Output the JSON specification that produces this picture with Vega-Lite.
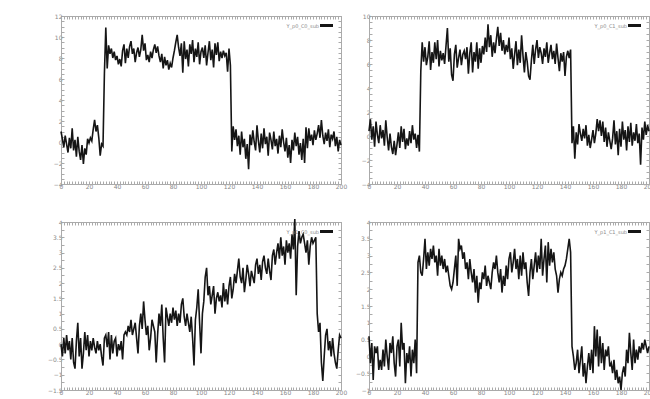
{
"$schema": "https://vega.github.io/schema/vega-lite/v6.json",
"background": "white",
"padding": {"left": 46, "top": 12, "right": 0, "bottom": 0},
"autosize": {"type": "pad"},
"bounds": "flush",
"columns": 2,
"spacing": {"row": 38, "column": 28},
"datasets": {
"s1": [
{"x":0,"y":1.0},{"x":1,"y":0.3},{"x":2,"y":-0.5},{"x":3,"y":0.6},{"x":4,"y":-0.2},{"x":5,"y":-1.0},{"x":6,"y":0.4},{"x":7,"y":-0.6},{"x":8,"y":1.3},{"x":9,"y":-0.8},
{"x":10,"y":0.2},{"x":11,"y":-1.4},{"x":12,"y":0.5},{"x":13,"y":-0.9},{"x":14,"y":-1.7},{"x":15,"y":-0.3},{"x":16,"y":-2.1},{"x":17,"y":-0.6},{"x":18,"y":-1.2},{"x":19,"y":0.3},
{"x":20,"y":-0.1},{"x":21,"y":0.4},{"x":22,"y":0.1},{"x":23,"y":1.2},{"x":24,"y":2.1},{"x":25,"y":1.0},{"x":26,"y":1.6},{"x":27,"y":0.4},{"x":28,"y":-1.3},{"x":29,"y":-0.2},
{"x":30,"y":-0.4},{"x":31,"y":6.5},{"x":32,"y":10.9},{"x":33,"y":7.0},{"x":34,"y":9.2},{"x":35,"y":8.4},{"x":36,"y":8.9},{"x":37,"y":8.0},{"x":38,"y":8.6},{"x":39,"y":7.8},
{"x":40,"y":8.2},{"x":41,"y":7.4},{"x":42,"y":7.9},{"x":43,"y":7.2},{"x":44,"y":8.7},{"x":45,"y":9.3},{"x":46,"y":7.5},{"x":47,"y":8.9},{"x":48,"y":8.0},{"x":49,"y":9.1},
{"x":50,"y":9.6},{"x":51,"y":8.4},{"x":52,"y":8.9},{"x":53,"y":7.6},{"x":54,"y":8.5},{"x":55,"y":9.0},{"x":56,"y":8.1},{"x":57,"y":8.8},{"x":58,"y":10.2},{"x":59,"y":8.7},
{"x":60,"y":9.4},{"x":61,"y":7.8},{"x":62,"y":8.3},{"x":63,"y":7.6},{"x":64,"y":8.6},{"x":65,"y":8.0},{"x":66,"y":8.8},{"x":67,"y":9.3},{"x":68,"y":8.5},{"x":69,"y":9.1},
{"x":70,"y":8.2},{"x":71,"y":7.6},{"x":72,"y":8.4},{"x":73,"y":7.0},{"x":74,"y":8.1},{"x":75,"y":7.3},{"x":76,"y":7.8},{"x":77,"y":6.9},{"x":78,"y":7.5},{"x":79,"y":7.1},
{"x":80,"y":8.0},{"x":81,"y":8.7},{"x":82,"y":9.5},{"x":83,"y":10.2},{"x":84,"y":9.0},{"x":85,"y":8.2},{"x":86,"y":9.4},{"x":87,"y":6.6},{"x":88,"y":9.6},{"x":89,"y":7.9},
{"x":90,"y":8.8},{"x":91,"y":7.2},{"x":92,"y":9.3},{"x":93,"y":8.4},{"x":94,"y":9.7},{"x":95,"y":7.6},{"x":96,"y":8.9},{"x":97,"y":8.1},{"x":98,"y":9.5},{"x":99,"y":7.4},
{"x":100,"y":8.6},{"x":101,"y":9.0},{"x":102,"y":8.0},{"x":103,"y":9.2},{"x":104,"y":7.3},{"x":105,"y":8.5},{"x":106,"y":9.6},{"x":107,"y":7.8},{"x":108,"y":8.8},{"x":109,"y":7.1},
{"x":110,"y":9.4},{"x":111,"y":8.3},{"x":112,"y":9.5},{"x":113,"y":7.7},{"x":114,"y":8.6},{"x":115,"y":8.0},{"x":116,"y":8.7},{"x":117,"y":8.2},{"x":118,"y":8.5},{"x":119,"y":6.7},
{"x":120,"y":8.9},{"x":121,"y":7.3},{"x":122,"y":-0.9},{"x":123,"y":1.5},{"x":124,"y":0.2},{"x":125,"y":1.2},{"x":126,"y":-0.4},{"x":127,"y":0.6},{"x":128,"y":-1.2},{"x":129,"y":1.0},
{"x":130,"y":-0.5},{"x":131,"y":0.3},{"x":132,"y":-1.6},{"x":133,"y":-0.2},{"x":134,"y":-2.6},{"x":135,"y":0.7},{"x":136,"y":-0.3},{"x":137,"y":1.1},{"x":138,"y":0.0},{"x":139,"y":-0.8},
{"x":140,"y":1.6},{"x":141,"y":0.1},{"x":142,"y":-1.0},{"x":143,"y":0.8},{"x":144,"y":-0.6},{"x":145,"y":1.3},{"x":146,"y":-0.2},{"x":147,"y":0.5},{"x":148,"y":-1.3},{"x":149,"y":0.9},
{"x":150,"y":0.2},{"x":151,"y":-0.7},{"x":152,"y":1.0},{"x":153,"y":-0.4},{"x":154,"y":0.3},{"x":155,"y":-1.1},{"x":156,"y":0.6},{"x":157,"y":-0.5},{"x":158,"y":1.2},{"x":159,"y":0.0},
{"x":160,"y":-0.9},{"x":161,"y":0.4},{"x":162,"y":-1.5},{"x":163,"y":-0.3},{"x":164,"y":-2.0},{"x":165,"y":0.2},{"x":166,"y":-0.8},{"x":167,"y":0.9},{"x":168,"y":-0.4},{"x":169,"y":0.5},
{"x":170,"y":-1.2},{"x":171,"y":-0.1},{"x":172,"y":-1.7},{"x":173,"y":0.3},{"x":174,"y":-2.0},{"x":175,"y":1.4},{"x":176,"y":-0.6},{"x":177,"y":1.3},{"x":178,"y":0.1},{"x":179,"y":0.7},
{"x":180,"y":-0.3},{"x":181,"y":1.1},{"x":182,"y":0.2},{"x":183,"y":0.8},{"x":184,"y":1.6},{"x":185,"y":0.4},{"x":186,"y":2.1},{"x":187,"y":0.6},{"x":188,"y":-0.2},{"x":189,"y":0.9},
{"x":190,"y":0.1},{"x":191,"y":1.2},{"x":192,"y":-0.5},{"x":193,"y":0.7},{"x":194,"y":0.3},{"x":195,"y":1.0},{"x":196,"y":-0.4},{"x":197,"y":0.5},{"x":198,"y":-0.9},{"x":199,"y":0.2},
{"x":200,"y":-0.3}
],
"s2": [
{"x":0,"y":0.4},{"x":1,"y":1.4},{"x":2,"y":-0.3},{"x":3,"y":0.8},{"x":4,"y":-0.9},{"x":5,"y":1.2},{"x":6,"y":0.1},{"x":7,"y":-0.6},{"x":8,"y":0.9},{"x":9,"y":-0.2},
{"x":10,"y":0.5},{"x":11,"y":-0.8},{"x":12,"y":1.3},{"x":13,"y":-0.1},{"x":14,"y":-1.2},{"x":15,"y":0.2},{"x":16,"y":-0.9},{"x":17,"y":-1.5},{"x":18,"y":-0.4},{"x":19,"y":-1.6},
{"x":20,"y":-0.7},{"x":21,"y":0.3},{"x":22,"y":-1.0},{"x":23,"y":0.8},{"x":24,"y":-0.5},{"x":25,"y":0.6},{"x":26,"y":-1.1},{"x":27,"y":-0.2},{"x":28,"y":-0.8},{"x":29,"y":0.4},
{"x":30,"y":-0.6},{"x":31,"y":0.9},{"x":32,"y":-0.3},{"x":33,"y":0.2},{"x":34,"y":-1.0},{"x":35,"y":0.1},{"x":36,"y":-1.3},{"x":37,"y":5.4},{"x":38,"y":7.8},{"x":39,"y":6.2},
{"x":40,"y":7.4},{"x":41,"y":5.9},{"x":42,"y":6.6},{"x":43,"y":7.9},{"x":44,"y":5.5},{"x":45,"y":7.0},{"x":46,"y":6.1},{"x":47,"y":7.8},{"x":48,"y":6.4},{"x":49,"y":8.0},
{"x":50,"y":5.8},{"x":51,"y":7.1},{"x":52,"y":6.3},{"x":53,"y":6.9},{"x":54,"y":6.0},{"x":55,"y":7.5},{"x":56,"y":9.0},{"x":57,"y":6.2},{"x":58,"y":7.3},{"x":59,"y":5.1},
{"x":60,"y":4.6},{"x":61,"y":6.8},{"x":62,"y":7.6},{"x":63,"y":5.7},{"x":64,"y":6.5},{"x":65,"y":7.2},{"x":66,"y":5.9},{"x":67,"y":6.8},{"x":68,"y":7.1},{"x":69,"y":6.4},
{"x":70,"y":7.4},{"x":71,"y":5.2},{"x":72,"y":6.9},{"x":73,"y":7.8},{"x":74,"y":5.3},{"x":75,"y":7.0},{"x":76,"y":6.2},{"x":77,"y":7.8},{"x":78,"y":5.6},{"x":79,"y":7.3},
{"x":80,"y":6.1},{"x":81,"y":7.5},{"x":82,"y":6.8},{"x":83,"y":8.2},{"x":84,"y":7.0},{"x":85,"y":9.3},{"x":86,"y":7.4},{"x":87,"y":8.4},{"x":88,"y":6.6},{"x":89,"y":7.8},
{"x":90,"y":6.9},{"x":91,"y":8.1},{"x":92,"y":9.1},{"x":93,"y":7.5},{"x":94,"y":8.6},{"x":95,"y":7.1},{"x":96,"y":8.0},{"x":97,"y":6.8},{"x":98,"y":7.6},{"x":99,"y":7.0},
{"x":100,"y":8.2},{"x":101,"y":6.4},{"x":102,"y":7.3},{"x":103,"y":5.6},{"x":104,"y":6.8},{"x":105,"y":7.9},{"x":106,"y":5.9},{"x":107,"y":7.2},{"x":108,"y":6.1},{"x":109,"y":8.4},
{"x":110,"y":6.7},{"x":111,"y":5.3},{"x":112,"y":7.0},{"x":113,"y":6.2},{"x":114,"y":5.0},{"x":115,"y":4.7},{"x":116,"y":6.3},{"x":117,"y":7.6},{"x":118,"y":6.0},{"x":119,"y":7.2},
{"x":120,"y":8.0},{"x":121,"y":6.5},{"x":122,"y":7.4},{"x":123,"y":6.9},{"x":124,"y":6.0},{"x":125,"y":7.3},{"x":126,"y":6.6},{"x":127,"y":7.8},{"x":128,"y":6.1},{"x":129,"y":6.9},
{"x":130,"y":7.6},{"x":131,"y":6.4},{"x":132,"y":7.1},{"x":133,"y":6.0},{"x":134,"y":7.7},{"x":135,"y":6.5},{"x":136,"y":5.4},{"x":137,"y":6.9},{"x":138,"y":6.2},{"x":139,"y":7.0},
{"x":140,"y":5.0},{"x":141,"y":6.6},{"x":142,"y":7.1},{"x":143,"y":6.5},{"x":144,"y":7.2},{"x":145,"y":-0.6},{"x":146,"y":0.8},{"x":147,"y":-1.9},{"x":148,"y":0.3},{"x":149,"y":-0.7},
{"x":150,"y":1.0},{"x":151,"y":0.2},{"x":152,"y":-0.4},{"x":153,"y":0.6},{"x":154,"y":-0.2},{"x":155,"y":0.9},{"x":156,"y":-0.8},{"x":157,"y":0.1},{"x":158,"y":-1.0},{"x":159,"y":-0.3},
{"x":160,"y":0.5},{"x":161,"y":-0.6},{"x":162,"y":0.2},{"x":163,"y":1.4},{"x":164,"y":0.4},{"x":165,"y":1.3},{"x":166,"y":0.0},{"x":167,"y":1.2},{"x":168,"y":-0.5},{"x":169,"y":0.7},
{"x":170,"y":-0.9},{"x":171,"y":0.3},{"x":172,"y":-0.4},{"x":173,"y":-1.1},{"x":174,"y":-0.2},{"x":175,"y":1.3},{"x":176,"y":-0.7},{"x":177,"y":0.4},{"x":178,"y":-1.6},{"x":179,"y":0.6},
{"x":180,"y":-0.9},{"x":181,"y":1.2},{"x":182,"y":-0.3},{"x":183,"y":0.5},{"x":184,"y":-1.2},{"x":185,"y":0.8},{"x":186,"y":-0.5},{"x":187,"y":1.1},{"x":188,"y":-0.8},{"x":189,"y":0.3},
{"x":190,"y":-0.4},{"x":191,"y":1.0},{"x":192,"y":-0.6},{"x":193,"y":0.2},{"x":194,"y":-2.4},{"x":195,"y":0.7},{"x":196,"y":-0.3},{"x":197,"y":1.2},{"x":198,"y":0.1},{"x":199,"y":0.9},
{"x":200,"y":0.4}
],
"s3": [
{"x":0,"y":0.0},{"x":1,"y":-0.4},{"x":2,"y":0.2},{"x":3,"y":-0.3},{"x":4,"y":0.3},{"x":5,"y":-0.2},{"x":6,"y":0.1},{"x":7,"y":-0.5},{"x":8,"y":0.2},{"x":9,"y":-0.6},
{"x":10,"y":-0.8},{"x":11,"y":0.1},{"x":12,"y":0.7},{"x":13,"y":-0.4},{"x":14,"y":0.2},{"x":15,"y":-0.8},{"x":16,"y":-0.3},{"x":17,"y":0.4},{"x":18,"y":-0.2},{"x":19,"y":0.3},
{"x":20,"y":-0.4},{"x":21,"y":0.1},{"x":22,"y":-0.2},{"x":23,"y":0.2},{"x":24,"y":-0.1},{"x":25,"y":-0.3},{"x":26,"y":0.1},{"x":27,"y":-0.2},{"x":28,"y":0.0},{"x":29,"y":-0.4},
{"x":30,"y":-0.7},{"x":31,"y":0.2},{"x":32,"y":0.3},{"x":33,"y":-0.1},{"x":34,"y":0.4},{"x":35,"y":-0.5},{"x":36,"y":0.3},{"x":37,"y":-0.3},{"x":38,"y":0.1},{"x":39,"y":0.2},
{"x":40,"y":-0.4},{"x":41,"y":0.0},{"x":42,"y":-0.2},{"x":43,"y":0.1},{"x":44,"y":-0.5},{"x":45,"y":0.3},{"x":46,"y":0.4},{"x":47,"y":0.3},{"x":48,"y":0.6},{"x":49,"y":0.4},
{"x":50,"y":0.8},{"x":51,"y":0.3},{"x":52,"y":0.5},{"x":53,"y":0.7},{"x":54,"y":0.2},{"x":55,"y":-0.3},{"x":56,"y":0.6},{"x":57,"y":1.0},{"x":58,"y":0.5},{"x":59,"y":1.4},
{"x":60,"y":0.8},{"x":61,"y":0.3},{"x":62,"y":0.6},{"x":63,"y":-0.2},{"x":64,"y":0.2},{"x":65,"y":0.8},{"x":66,"y":0.6},{"x":67,"y":0.4},{"x":68,"y":-0.6},{"x":69,"y":0.3},
{"x":70,"y":1.0},{"x":71,"y":0.6},{"x":72,"y":1.3},{"x":73,"y":0.2},{"x":74,"y":-0.6},{"x":75,"y":1.2},{"x":76,"y":0.9},{"x":77,"y":0.6},{"x":78,"y":1.0},{"x":79,"y":0.7},
{"x":80,"y":1.2},{"x":81,"y":0.8},{"x":82,"y":1.1},{"x":83,"y":0.6},{"x":84,"y":1.0},{"x":85,"y":0.7},{"x":86,"y":1.3},{"x":87,"y":1.5},{"x":88,"y":0.9},{"x":89,"y":0.6},
{"x":90,"y":1.0},{"x":91,"y":0.7},{"x":92,"y":0.4},{"x":93,"y":0.9},{"x":94,"y":0.2},{"x":95,"y":-0.7},{"x":96,"y":0.8},{"x":97,"y":1.2},{"x":98,"y":1.8},{"x":99,"y":0.7},
{"x":100,"y":-0.3},{"x":101,"y":1.0},{"x":102,"y":1.4},{"x":103,"y":2.2},{"x":104,"y":2.5},{"x":105,"y":1.6},{"x":106,"y":1.9},{"x":107,"y":1.3},{"x":108,"y":1.6},{"x":109,"y":1.9},
{"x":110,"y":1.0},{"x":111,"y":1.5},{"x":112,"y":1.7},{"x":113,"y":1.4},{"x":114,"y":1.6},{"x":115,"y":1.2},{"x":116,"y":2.0},{"x":117,"y":1.4},{"x":118,"y":1.8},{"x":119,"y":1.3},
{"x":120,"y":1.9},{"x":121,"y":2.2},{"x":122,"y":1.5},{"x":123,"y":1.8},{"x":124,"y":2.3},{"x":125,"y":2.0},{"x":126,"y":2.4},{"x":127,"y":2.8},{"x":128,"y":2.2},{"x":129,"y":2.0},
{"x":130,"y":2.5},{"x":131,"y":1.7},{"x":132,"y":2.1},{"x":133,"y":2.6},{"x":134,"y":2.3},{"x":135,"y":1.9},{"x":136,"y":2.4},{"x":137,"y":2.2},{"x":138,"y":2.0},{"x":139,"y":2.6},
{"x":140,"y":2.8},{"x":141,"y":2.3},{"x":142,"y":2.6},{"x":143,"y":2.1},{"x":144,"y":2.7},{"x":145,"y":2.9},{"x":146,"y":2.5},{"x":147,"y":2.3},{"x":148,"y":2.8},{"x":149,"y":2.4},
{"x":150,"y":2.1},{"x":151,"y":2.9},{"x":152,"y":3.1},{"x":153,"y":2.6},{"x":154,"y":3.0},{"x":155,"y":3.3},{"x":156,"y":2.8},{"x":157,"y":3.5},{"x":158,"y":2.9},{"x":159,"y":3.2},
{"x":160,"y":2.6},{"x":161,"y":3.4},{"x":162,"y":3.0},{"x":163,"y":3.3},{"x":164,"y":2.8},{"x":165,"y":3.6},{"x":166,"y":3.1},{"x":167,"y":4.1},{"x":168,"y":1.6},{"x":169,"y":3.2},
{"x":170,"y":3.7},{"x":171,"y":3.3},{"x":172,"y":3.5},{"x":173,"y":3.6},{"x":174,"y":3.3},{"x":175,"y":3.0},{"x":176,"y":3.4},{"x":177,"y":2.6},{"x":178,"y":3.2},{"x":179,"y":3.5},
{"x":180,"y":3.3},{"x":181,"y":3.4},{"x":182,"y":3.5},{"x":183,"y":1.0},{"x":184,"y":0.4},{"x":185,"y":0.7},{"x":186,"y":-0.6},{"x":187,"y":-1.2},{"x":188,"y":-0.4},{"x":189,"y":0.3},
{"x":190,"y":0.5},{"x":191,"y":-0.2},{"x":192,"y":0.1},{"x":193,"y":-0.4},{"x":194,"y":0.2},{"x":195,"y":-0.3},{"x":196,"y":-0.6},{"x":197,"y":-0.8},{"x":198,"y":-0.2},{"x":199,"y":0.3},
{"x":200,"y":0.2}
],
"s4": [
{"x":0,"y":0.6},{"x":1,"y":-0.2},{"x":2,"y":0.4},{"x":3,"y":-0.7},{"x":4,"y":0.3},{"x":5,"y":0.1},{"x":6,"y":0.3},{"x":7,"y":-0.4},{"x":8,"y":-0.1},{"x":9,"y":-0.4},
{"x":10,"y":0.2},{"x":11,"y":-0.3},{"x":12,"y":0.5},{"x":13,"y":0.0},{"x":14,"y":-0.4},{"x":15,"y":0.4},{"x":16,"y":0.1},{"x":17,"y":0.6},{"x":18,"y":-0.2},{"x":19,"y":-0.6},
{"x":20,"y":0.3},{"x":21,"y":0.5},{"x":22,"y":-0.3},{"x":23,"y":1.0},{"x":24,"y":0.2},{"x":25,"y":0.4},{"x":26,"y":-0.8},{"x":27,"y":0.1},{"x":28,"y":-0.2},{"x":29,"y":0.3},
{"x":30,"y":-0.6},{"x":31,"y":0.2},{"x":32,"y":-0.2},{"x":33,"y":0.5},{"x":34,"y":-0.5},{"x":35,"y":2.8},{"x":36,"y":3.0},{"x":37,"y":2.5},{"x":38,"y":2.4},{"x":39,"y":2.9},
{"x":40,"y":3.5},{"x":41,"y":2.6},{"x":42,"y":3.1},{"x":43,"y":2.7},{"x":44,"y":3.2},{"x":45,"y":2.9},{"x":46,"y":3.3},{"x":47,"y":2.8},{"x":48,"y":3.0},{"x":49,"y":2.4},
{"x":50,"y":3.2},{"x":51,"y":2.7},{"x":52,"y":3.0},{"x":53,"y":2.6},{"x":54,"y":2.9},{"x":55,"y":2.5},{"x":56,"y":2.7},{"x":57,"y":2.4},{"x":58,"y":2.1},{"x":59,"y":2.0},
{"x":60,"y":2.2},{"x":61,"y":2.6},{"x":62,"y":3.0},{"x":63,"y":2.1},{"x":64,"y":3.5},{"x":65,"y":3.2},{"x":66,"y":3.3},{"x":67,"y":2.9},{"x":68,"y":3.1},{"x":69,"y":2.6},
{"x":70,"y":2.8},{"x":71,"y":2.3},{"x":72,"y":2.9},{"x":73,"y":2.5},{"x":74,"y":2.2},{"x":75,"y":2.6},{"x":76,"y":1.9},{"x":77,"y":2.4},{"x":78,"y":1.6},{"x":79,"y":2.2},
{"x":80,"y":2.0},{"x":81,"y":2.5},{"x":82,"y":2.3},{"x":83,"y":2.7},{"x":84,"y":2.1},{"x":85,"y":2.4},{"x":86,"y":2.2},{"x":87,"y":2.0},{"x":88,"y":2.5},{"x":89,"y":2.8},
{"x":90,"y":2.6},{"x":91,"y":3.0},{"x":92,"y":2.5},{"x":93,"y":2.2},{"x":94,"y":2.6},{"x":95,"y":1.9},{"x":96,"y":2.4},{"x":97,"y":2.1},{"x":98,"y":2.7},{"x":99,"y":2.3},
{"x":100,"y":2.9},{"x":101,"y":3.1},{"x":102,"y":2.5},{"x":103,"y":2.8},{"x":104,"y":3.2},{"x":105,"y":2.6},{"x":106,"y":2.9},{"x":107,"y":2.3},{"x":108,"y":3.0},{"x":109,"y":2.4},
{"x":110,"y":3.1},{"x":111,"y":2.6},{"x":112,"y":2.8},{"x":113,"y":2.2},{"x":114,"y":1.8},{"x":115,"y":2.5},{"x":116,"y":2.9},{"x":117,"y":2.3},{"x":118,"y":2.7},{"x":119,"y":3.1},
{"x":120,"y":2.5},{"x":121,"y":3.0},{"x":122,"y":2.6},{"x":123,"y":3.5},{"x":124,"y":2.4},{"x":125,"y":2.9},{"x":126,"y":3.3},{"x":127,"y":2.2},{"x":128,"y":3.4},{"x":129,"y":2.7},
{"x":130,"y":3.2},{"x":131,"y":2.8},{"x":132,"y":3.1},{"x":133,"y":2.6},{"x":134,"y":2.4},{"x":135,"y":1.9},{"x":136,"y":2.3},{"x":137,"y":2.5},{"x":138,"y":2.4},{"x":139,"y":2.6},
{"x":140,"y":2.7},{"x":141,"y":2.9},{"x":142,"y":3.2},{"x":143,"y":3.5},{"x":144,"y":3.1},{"x":145,"y":0.3},{"x":146,"y":0.0},{"x":147,"y":-0.4},{"x":148,"y":-0.2},{"x":149,"y":0.2},
{"x":150,"y":-0.5},{"x":151,"y":-0.1},{"x":152,"y":0.3},{"x":153,"y":-0.6},{"x":154,"y":-0.2},{"x":155,"y":-0.8},{"x":156,"y":-0.3},{"x":157,"y":0.1},{"x":158,"y":-0.4},{"x":159,"y":0.2},
{"x":160,"y":-0.5},{"x":161,"y":0.9},{"x":162,"y":0.0},{"x":163,"y":0.8},{"x":164,"y":-0.3},{"x":165,"y":0.6},{"x":166,"y":-0.2},{"x":167,"y":0.4},{"x":168,"y":-0.4},{"x":169,"y":0.2},
{"x":170,"y":0.0},{"x":171,"y":0.3},{"x":172,"y":-0.3},{"x":173,"y":-0.2},{"x":174,"y":-0.5},{"x":175,"y":-0.1},{"x":176,"y":-0.7},{"x":177,"y":-0.4},{"x":178,"y":-0.8},{"x":179,"y":-0.6},
{"x":180,"y":-1.0},{"x":181,"y":-0.5},{"x":182,"y":-0.3},{"x":183,"y":-0.6},{"x":184,"y":0.2},{"x":185,"y":-0.2},{"x":186,"y":0.7},{"x":187,"y":0.1},{"x":188,"y":-0.4},{"x":189,"y":0.5},
{"x":190,"y":-0.2},{"x":191,"y":0.2},{"x":192,"y":-0.1},{"x":193,"y":0.3},{"x":194,"y":0.1},{"x":195,"y":0.4},{"x":196,"y":0.2},{"x":197,"y":0.5},{"x":198,"y":0.3},{"x":199,"y":0.1},
{"x":200,"y":0.3}
]
},
"concat": [
{
"width": 280, "height": 168,
"data": {"name": "s1"},
"layer": [
{"mark": {"type": "line", "strokeWidth": 1.6},
"encoding": {
"x": {"field": "x", "type": "quantitative", "scale": {"domain": [0, 200], "nice": false}, "axis": {"orient": "bottom", "tickCount": 80, "labelOverlap": false, "labelExpr": "datum.value % 20 === 0 ? format(datum.value, '~g') : ''"}},
"y": {"field": "y", "type": "quantitative", "scale": {"domain": [-4, 12], "nice": false}, "axis": {"orient": "left", "tickCount": 32, "labelOverlap": false, "labelExpr": "datum.value % 2 === 0 ? format(datum.value, '~g') : ''"}},
"color": {"datum": "Y_p0_C0_sub", "scale": {"range": ["#151515"]}}
}},
{"mark": {"type": "line", "opacity": 0},
"encoding": {
"x": {"field": "x", "type": "quantitative", "axis": {"orient": "top", "tickCount": 80, "labels": false}},
"y": {"field": "y", "type": "quantitative", "axis": {"orient": "right", "tickCount": 32, "labels": false}}
}}
],
"resolve": {"axis": {"x": "independent", "y": "independent"}}
},
{
"width": 280, "height": 168,
"data": {"name": "s2"},
"layer": [
{"mark": {"type": "line", "strokeWidth": 1.6},
"encoding": {
"x": {"field": "x", "type": "quantitative", "scale": {"domain": [0, 200], "nice": false}, "axis": {"orient": "bottom", "tickCount": 80, "labelOverlap": false, "labelExpr": "datum.value % 20 === 0 ? format(datum.value, '~g') : ''"}},
"y": {"field": "y", "type": "quantitative", "scale": {"domain": [-4, 10], "nice": false}, "axis": {"orient": "left", "tickCount": 28, "labelOverlap": false, "labelExpr": "datum.value % 2 === 0 ? format(datum.value, '~g') : ''"}},
"color": {"datum": "Y_p0_C1_sub", "scale": {"range": ["#151515"]}}
}},
{"mark": {"type": "line", "opacity": 0},
"encoding": {
"x": {"field": "x", "type": "quantitative", "axis": {"orient": "top", "tickCount": 80, "labels": false}},
"y": {"field": "y", "type": "quantitative", "axis": {"orient": "right", "tickCount": 28, "labels": false}}
}}
],
"resolve": {"axis": {"x": "independent", "y": "independent"}}
},
{
"width": 280, "height": 168,
"data": {"name": "s3"},
"layer": [
{"mark": {"type": "line", "strokeWidth": 1.6},
"encoding": {
"x": {"field": "x", "type": "quantitative", "scale": {"domain": [0, 200], "nice": false}, "axis": {"orient": "bottom", "tickCount": 80, "labelOverlap": false, "labelExpr": "datum.value % 20 === 0 ? format(datum.value, '~g') : ''"}},
"y": {"field": "y", "type": "quantitative", "scale": {"domain": [-1.5, 4], "nice": false}, "axis": {"orient": "left", "labelOverlap": false, "values": [-1.5,-1.25,-1,-0.75,-0.5,-0.25,0,0.25,0.5,0.75,1,1.25,1.5,1.75,2,2.25,2.5,2.75,3,3.25,3.5,3.75,4], "labelExpr": "datum.value % 0.5 === 0 ? format(datum.value, '~g') : ''"}},
"color": {"datum": "Y_p1_C0_sub", "scale": {"range": ["#151515"]}}
}},
{"mark": {"type": "line", "opacity": 0},
"encoding": {
"x": {"field": "x", "type": "quantitative", "axis": {"orient": "top", "tickCount": 80, "labels": false}},
"y": {"field": "y", "type": "quantitative", "axis": {"orient": "right", "values": [-1.5,-1.25,-1,-0.75,-0.5,-0.25,0,0.25,0.5,0.75,1,1.25,1.5,1.75,2,2.25,2.5,2.75,3,3.25,3.5,3.75,4], "labels": false}}
}}
],
"resolve": {"axis": {"x": "independent", "y": "independent"}}
},
{
"width": 280, "height": 168,
"data": {"name": "s4"},
"layer": [
{"mark": {"type": "line", "strokeWidth": 1.6},
"encoding": {
"x": {"field": "x", "type": "quantitative", "scale": {"domain": [0, 200], "nice": false}, "axis": {"orient": "bottom", "tickCount": 80, "labelOverlap": false, "labelExpr": "datum.value % 20 === 0 ? format(datum.value, '~g') : ''"}},
"y": {"field": "y", "type": "quantitative", "scale": {"domain": [-1, 4], "nice": false}, "axis": {"orient": "left", "labelOverlap": false, "values": [-1,-0.75,-0.5,-0.25,0,0.25,0.5,0.75,1,1.25,1.5,1.75,2,2.25,2.5,2.75,3,3.25,3.5,3.75,4], "labelExpr": "datum.value % 0.5 === 0 ? format(datum.value, '~g') : ''"}},
"color": {"datum": "Y_p1_C1_sub", "scale": {"range": ["#151515"]}}
}},
{"mark": {"type": "line", "opacity": 0},
"encoding": {
"x": {"field": "x", "type": "quantitative", "axis": {"orient": "top", "tickCount": 80, "labels": false}},
"y": {"field": "y", "type": "quantitative", "axis": {"orient": "right", "values": [-1,-0.75,-0.5,-0.25,0,0.25,0.5,0.75,1,1.25,1.5,1.75,2,2.25,2.5,2.75,3,3.25,3.5,3.75,4], "labels": false}}
}}
],
"resolve": {"axis": {"x": "independent", "y": "independent"}}
}
],
"resolve": {"scale": {"color": "independent"}, "legend": {"color": "independent"}},
"config": {
"view": {"stroke": "#aaaaaa", "strokeWidth": 1},
"axis": {"title": null, "grid": false, "labelFont": "DejaVu Sans", "labelFontSize": 6, "labelColor": "#888888", "labelPadding": 2, "labelOverlap": false, "labelFlush": false, "tickSize": -3, "tickColor": "#aaaaaa", "domainColor": "#aaaaaa"},
"legend": {"orient": "top-right", "title": null, "symbolType": "stroke", "symbolStrokeWidth": 3, "symbolSize": 170, "labelFontSize": 5, "labelColor": "#888888", "labelFont": "DejaVu Sans", "labelAlign": "right", "labelOffset": -16, "padding": 0, "offset": 1, "rowPadding": 0}
}
}
